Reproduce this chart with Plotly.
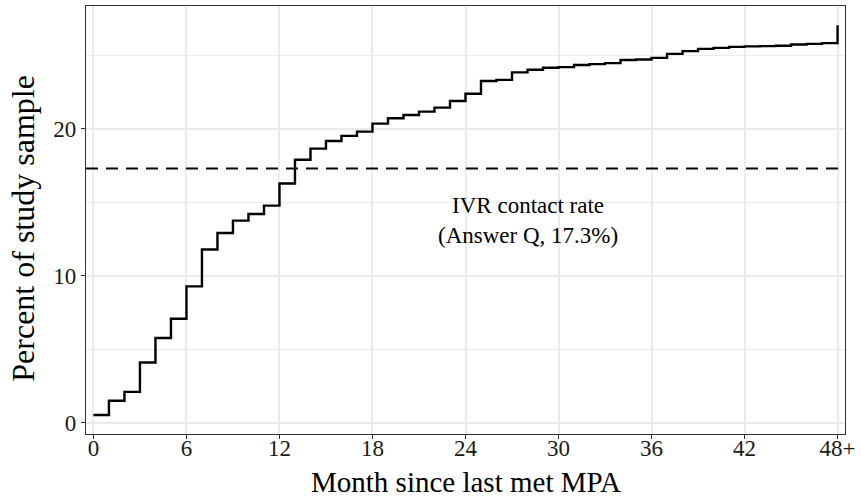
import plotly.graph_objects as go

months = list(range(0, 49))
percent = [0.51, 1.48, 2.09, 4.09, 5.76, 7.07, 9.27, 11.78, 12.91, 13.75,
           14.20, 14.77, 16.28, 17.89, 18.65, 19.17, 19.52, 19.81, 20.35, 20.72,
           20.94, 21.17, 21.44, 21.89, 22.39, 23.25, 23.33, 23.84, 24.02, 24.16,
           24.20, 24.34, 24.40, 24.47, 24.68, 24.72, 24.83, 25.10, 25.29, 25.44,
           25.51, 25.58, 25.61, 25.63, 25.65, 25.74, 25.78, 25.83, 27.05]
x_ticks = [0, 6, 12, 18, 24, 30, 36, 42, 48]
x_ticklabels = ["0", "6", "12", "18", "24", "30", "36", "42", "48+"]
y_ticks = [0, 10, 20]
contact_rate = 17.3
annot_text = "IVR contact rate<br>(Answer Q, 17.3%)"
annot_x = 28
annot_y = 13.75
x_title = "Month since last met MPA"
y_title = "Percent of study sample"

FONT = "Liberation Serif, Times New Roman, serif"
W, H = 861, 500
L, R, T, B = 86, 14, 5, 66
PW, PH = W - L - R, H - T - B

fig = go.Figure()
fig.add_trace(go.Scatter(x=months, y=percent, mode="lines",
                         line=dict(shape="hv", color="black", width=2.4),
                         showlegend=False, hoverinfo="skip"))
fig.add_shape(type="line", xref="paper", x0=0, x1=1, yref="y",
              y0=contact_rate, y1=contact_rate,
              line=dict(color="black", width=2, dash="12px,8px"))
fig.add_annotation(x=annot_x, y=annot_y, text=annot_text, showarrow=False,
                   font=dict(family=FONT, size=23, color="black"),
                   align="center")
# axis titles
fig.add_annotation(xref="paper", yref="paper", x=0.5, y=-(482 - (H - B)) / PH,
                   xanchor="center", yanchor="middle", text=x_title,
                   showarrow=False, font=dict(family=FONT, size=29, color="black"))
fig.add_annotation(xref="paper", yref="paper", x=-(L - 22) / PW, y=0.48,
                   xanchor="center", yanchor="middle", text=y_title, textangle=-90,
                   showarrow=False, font=dict(family=FONT, size=32, color="black"))

fig.update_layout(
    width=W, height=H,
    margin=dict(l=L, r=R, t=T, b=B),
    plot_bgcolor="white", paper_bgcolor="white",
    font=dict(family=FONT, color="black"),
)
fig.update_xaxes(range=[-0.48, 48.48], tickvals=x_ticks, ticktext=x_ticklabels,
                 showgrid=True, gridcolor="#EBEBEB", gridwidth=1.6,
                 zeroline=False, showline=True, linecolor="#333333", linewidth=1.3,
                 mirror=True, ticks="outside", ticklen=4, tickcolor="#333333",
                 tickwidth=1.3, ticklabelstandoff=-11,
                 tickfont=dict(family=FONT, size=23, color="#1a1a1a"))
fig.update_yaxes(range=[-0.78, 28.36], tickvals=y_ticks,
                 showgrid=True, gridcolor="#EBEBEB", gridwidth=1.6,
                 minor=dict(tickvals=[5, 15, 25], showgrid=True,
                            gridcolor="#EBEBEB", gridwidth=0.9, ticks=""),
                 zeroline=False, showline=True, linecolor="#333333", linewidth=1.3,
                 mirror=True, ticks="outside", ticklen=4, tickcolor="#333333",
                 tickwidth=1.3,
                 tickfont=dict(family=FONT, size=23, color="#1a1a1a"))

fig.write_html("out.html")
